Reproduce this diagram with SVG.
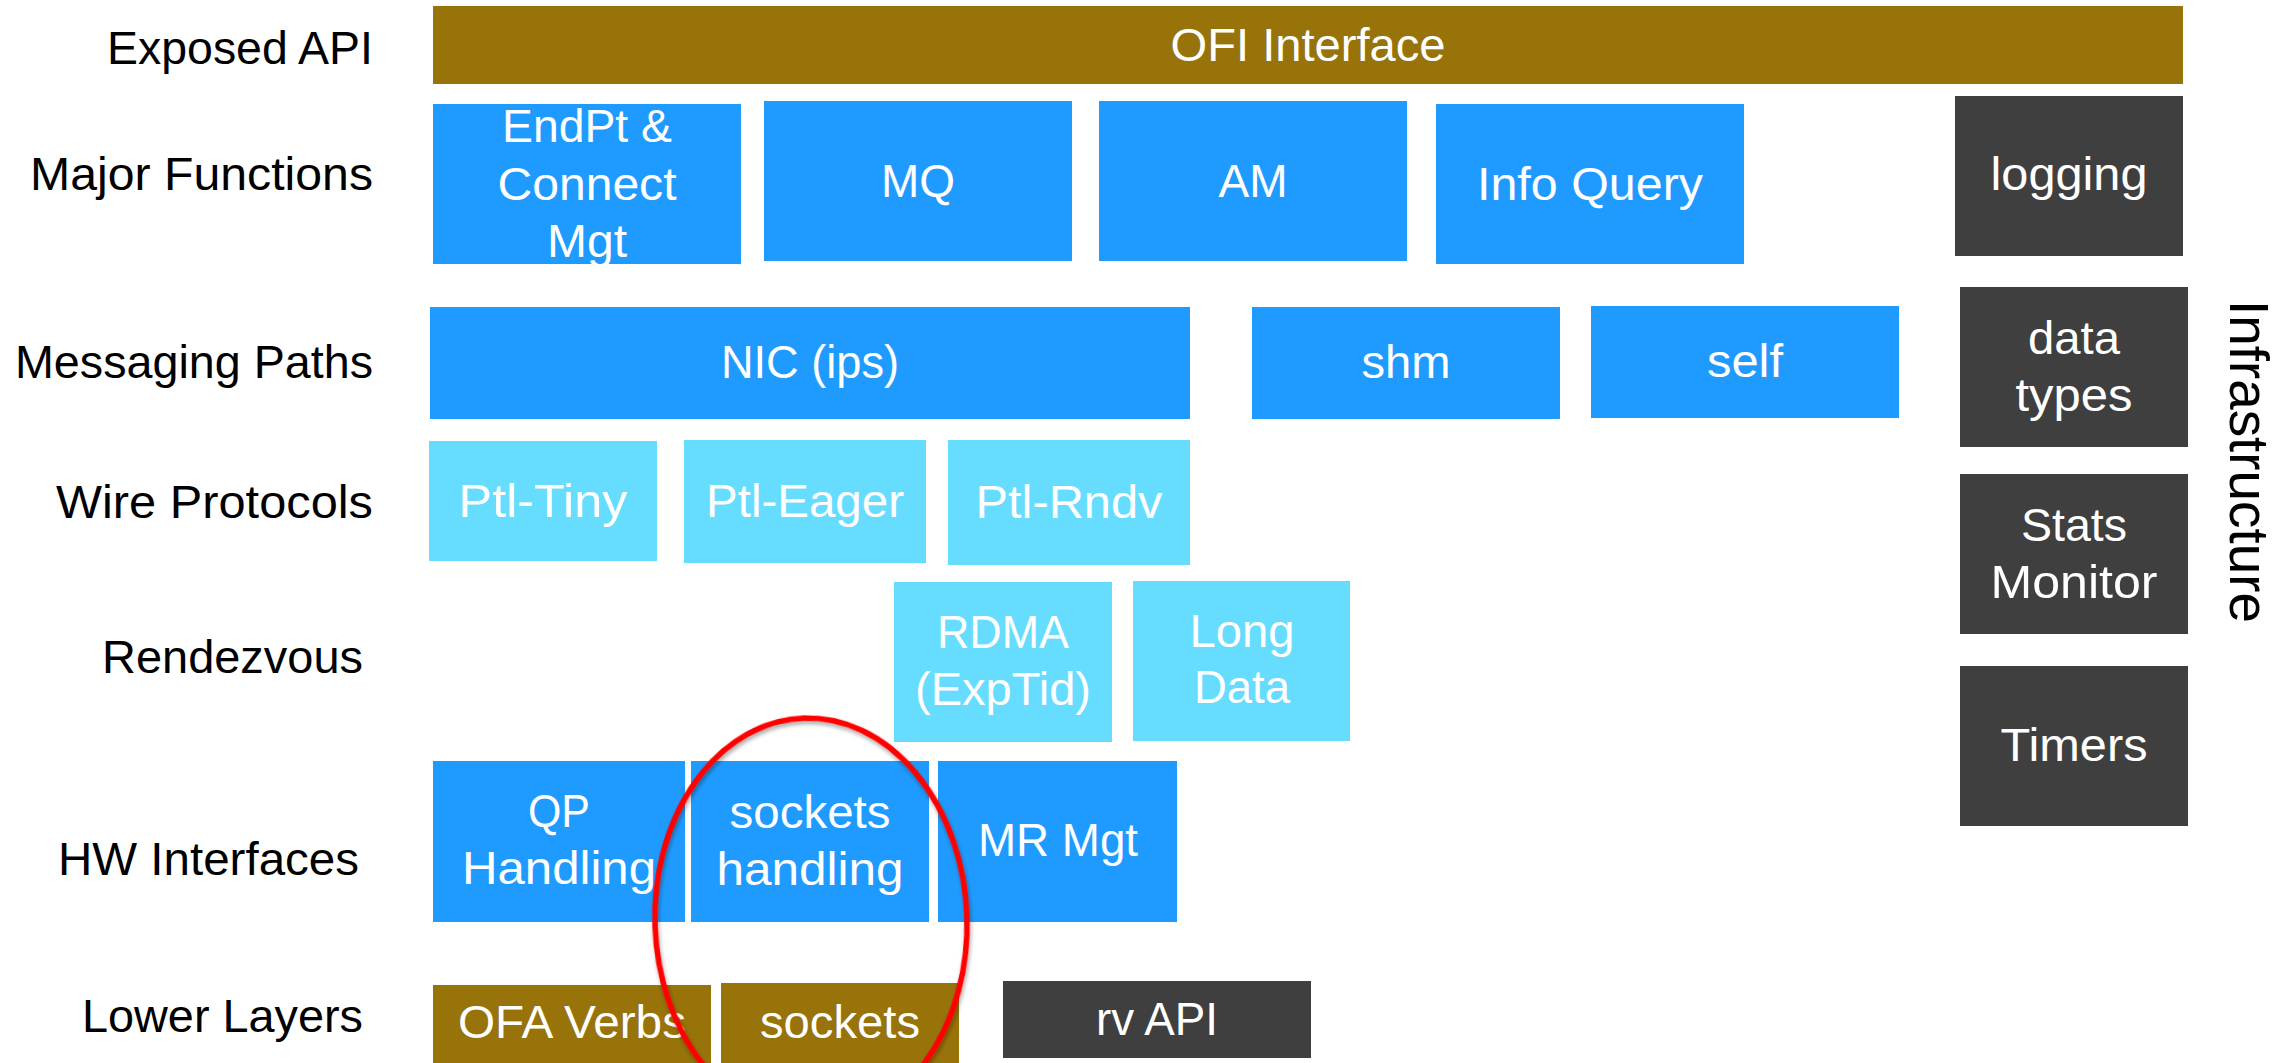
<svg xmlns="http://www.w3.org/2000/svg" width="2290" height="1063" viewBox="0 0 2290 1063">
  <defs>
    <style>
      text { font-family: "Liberation Sans", Arial, sans-serif; font-size: 46px; }
      .lbl { fill: #000000; text-anchor: end; }
      .t { fill: #ffffff; text-anchor: middle; }
      .api { fill: #98730A; }
      .core { fill: #1F9BFF; }
      .proto { fill: #66DDFF; }
      .infra { fill: #3F3F3F; }
      .ring { fill: none; stroke: #FF0000; stroke-width: 5.5; }
    </style>
    <filter id="ringShadow" x="-10%" y="-10%" width="120%" height="120%">
      <feDropShadow dx="1" dy="3" stdDeviation="2" flood-color="#000000" flood-opacity="0.35"/>
    </filter>
  </defs>
  <rect width="2290" height="1063" fill="#ffffff"/>

  <!-- layer labels -->
  <g id="layer-labels">
    <text class="lbl" x="373" y="64" textLength="266" lengthAdjust="spacingAndGlyphs">Exposed API</text>
    <text class="lbl" x="373" y="190" textLength="343" lengthAdjust="spacingAndGlyphs">Major Functions</text>
    <text class="lbl" x="373" y="378" textLength="358" lengthAdjust="spacingAndGlyphs">Messaging Paths</text>
    <text class="lbl" x="373" y="518" textLength="317" lengthAdjust="spacingAndGlyphs">Wire Protocols</text>
    <text class="lbl" x="363" y="673" textLength="261" lengthAdjust="spacingAndGlyphs">Rendezvous</text>
    <text class="lbl" x="359" y="875" textLength="301" lengthAdjust="spacingAndGlyphs">HW Interfaces</text>
    <text class="lbl" x="363" y="1032" textLength="281" lengthAdjust="spacingAndGlyphs">Lower Layers</text>
    <text x="2230" y="300" transform="rotate(90 2230 300)" style="font-size:55px" fill="#000000" textLength="323" lengthAdjust="spacingAndGlyphs">Infrastructure</text>
  </g>

  <!-- exposed API -->
  <g id="ofi-interface">
    <rect class="api" x="433" y="6" width="1750" height="78"/>
    <text class="t" x="1308" y="61" textLength="275" lengthAdjust="spacingAndGlyphs">OFI Interface</text>
  </g>

  <!-- major functions -->
  <g id="endpt-connect-mgt">
    <rect class="core" x="433" y="104" width="308" height="160"/>
    <text class="t" x="587" y="142" textLength="170" lengthAdjust="spacingAndGlyphs">EndPt &amp;</text>
    <text class="t" x="587" y="200" textLength="179" lengthAdjust="spacingAndGlyphs">Connect</text>
    <text class="t" x="587" y="257" textLength="80" lengthAdjust="spacingAndGlyphs">Mgt</text>
  </g>
  <g id="mq">
    <rect class="core" x="764" y="101" width="308" height="160"/>
    <text class="t" x="918" y="197" textLength="74" lengthAdjust="spacingAndGlyphs">MQ</text>
  </g>
  <g id="am">
    <rect class="core" x="1099" y="101" width="308" height="160"/>
    <text class="t" x="1253" y="197" textLength="69" lengthAdjust="spacingAndGlyphs">AM</text>
  </g>
  <g id="info-query">
    <rect class="core" x="1436" y="104" width="308" height="160"/>
    <text class="t" x="1590" y="200" textLength="226" lengthAdjust="spacingAndGlyphs">Info Query</text>
  </g>

  <!-- messaging paths -->
  <g id="nic-ips">
    <rect class="core" x="430" y="307" width="760" height="112"/>
    <text class="t" x="810" y="378" textLength="178" lengthAdjust="spacingAndGlyphs">NIC (ips)</text>
  </g>
  <g id="shm">
    <rect class="core" x="1252" y="307" width="308" height="112"/>
    <text class="t" x="1406" y="378" textLength="89" lengthAdjust="spacingAndGlyphs">shm</text>
  </g>
  <g id="self">
    <rect class="core" x="1591" y="306" width="308" height="112"/>
    <text class="t" x="1745" y="377" textLength="76" lengthAdjust="spacingAndGlyphs">self</text>
  </g>

  <!-- wire protocols -->
  <g id="ptl-tiny">
    <rect class="proto" x="429" y="441" width="228" height="120"/>
    <text class="t" x="543" y="517" textLength="169" lengthAdjust="spacingAndGlyphs">Ptl-Tiny</text>
  </g>
  <g id="ptl-eager">
    <rect class="proto" x="684" y="440" width="242" height="123"/>
    <text class="t" x="805" y="517" textLength="198" lengthAdjust="spacingAndGlyphs">Ptl-Eager</text>
  </g>
  <g id="ptl-rndv">
    <rect class="proto" x="948" y="440" width="242" height="125"/>
    <text class="t" x="1069" y="518" textLength="187" lengthAdjust="spacingAndGlyphs">Ptl-Rndv</text>
  </g>

  <!-- rendezvous -->
  <g id="rdma-exptid">
    <rect class="proto" x="894" y="582" width="218" height="160"/>
    <text class="t" x="1003" y="648" textLength="132" lengthAdjust="spacingAndGlyphs">RDMA</text>
    <text class="t" x="1003" y="705" textLength="176" lengthAdjust="spacingAndGlyphs">(ExpTid)</text>
  </g>
  <g id="long-data">
    <rect class="proto" x="1133" y="581" width="217" height="160"/>
    <text class="t" x="1242" y="647" textLength="105" lengthAdjust="spacingAndGlyphs">Long</text>
    <text class="t" x="1242" y="703" textLength="96" lengthAdjust="spacingAndGlyphs">Data</text>
  </g>

  <!-- hardware interfaces -->
  <g id="qp-handling">
    <rect class="core" x="433" y="761" width="252" height="161"/>
    <text class="t" x="559" y="827" textLength="62" lengthAdjust="spacingAndGlyphs">QP</text>
    <text class="t" x="559" y="884" textLength="194" lengthAdjust="spacingAndGlyphs">Handling</text>
  </g>
  <g id="sockets-handling">
    <rect class="core" x="691" y="761" width="238" height="161"/>
    <text class="t" x="810" y="828" textLength="161" lengthAdjust="spacingAndGlyphs">sockets</text>
    <text class="t" x="810" y="885" textLength="187" lengthAdjust="spacingAndGlyphs">handling</text>
  </g>
  <g id="mr-mgt">
    <rect class="core" x="938" y="761" width="239" height="161"/>
    <text class="t" x="1058" y="856" textLength="160" lengthAdjust="spacingAndGlyphs">MR Mgt</text>
  </g>

  <!-- lower layers -->
  <g id="ofa-verbs">
    <rect class="api" x="433" y="985" width="278" height="78"/>
    <text class="t" x="572" y="1038" textLength="228" lengthAdjust="spacingAndGlyphs">OFA Verbs</text>
  </g>
  <g id="sockets">
    <rect class="api" x="721" y="983" width="238" height="80"/>
    <text class="t" x="840" y="1038" textLength="160" lengthAdjust="spacingAndGlyphs">sockets</text>
  </g>
  <g id="rv-api">
    <rect class="infra" x="1003" y="981" width="308" height="77"/>
    <text class="t" x="1157" y="1035" textLength="122" lengthAdjust="spacingAndGlyphs">rv API</text>
  </g>

  <!-- infrastructure column -->
  <g id="logging">
    <rect class="infra" x="1955" y="96" width="228" height="160"/>
    <text class="t" x="2069" y="190" textLength="157" lengthAdjust="spacingAndGlyphs">logging</text>
  </g>
  <g id="data-types">
    <rect class="infra" x="1960" y="287" width="228" height="160"/>
    <text class="t" x="2074" y="354" textLength="92" lengthAdjust="spacingAndGlyphs">data</text>
    <text class="t" x="2074" y="411" textLength="117" lengthAdjust="spacingAndGlyphs">types</text>
  </g>
  <g id="stats-monitor">
    <rect class="infra" x="1960" y="474" width="228" height="160"/>
    <text class="t" x="2074" y="541" textLength="106" lengthAdjust="spacingAndGlyphs">Stats</text>
    <text class="t" x="2074" y="598" textLength="167" lengthAdjust="spacingAndGlyphs">Monitor</text>
  </g>
  <g id="timers">
    <rect class="infra" x="1960" y="666" width="228" height="160"/>
    <text class="t" x="2074" y="761" textLength="147" lengthAdjust="spacingAndGlyphs">Timers</text>
  </g>

  <!-- connectors: none in this stack, only the highlight ring -->
  <g id="connectors">
    <ellipse class="ring" cx="811" cy="921" rx="156" ry="203" transform="rotate(-2 811 921)" filter="url(#ringShadow)"/>
  </g>
</svg>
